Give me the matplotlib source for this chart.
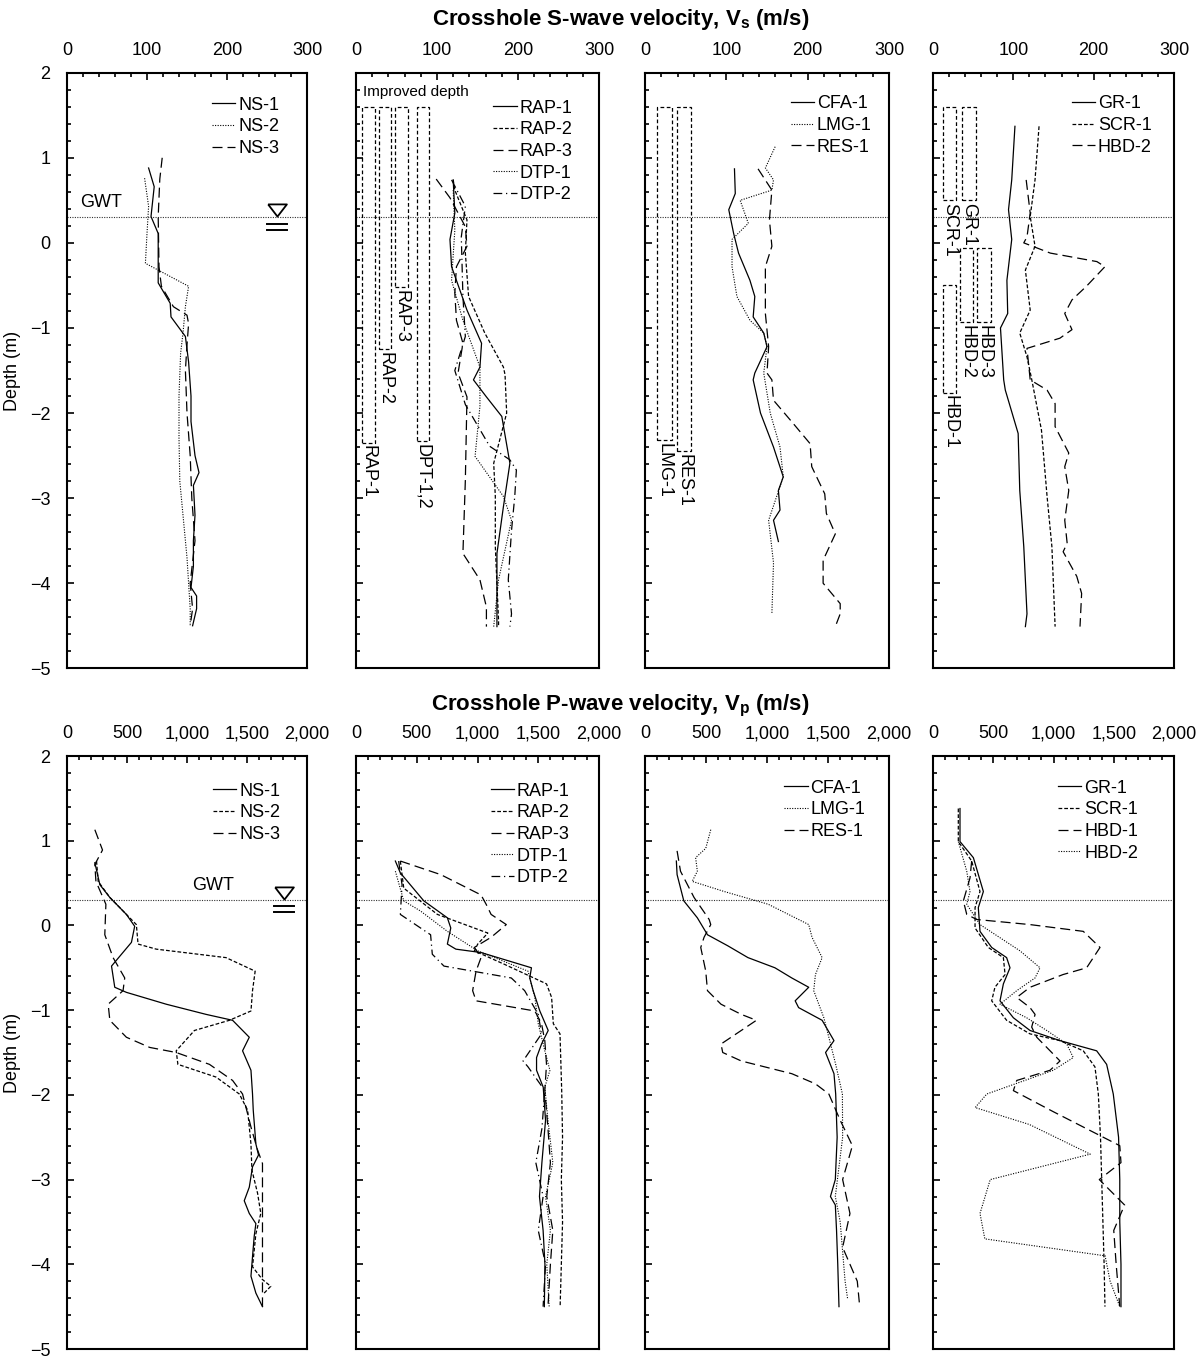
import matplotlib
matplotlib.use('Agg')
import matplotlib.pyplot as plt
from matplotlib.ticker import MultipleLocator, FuncFormatter
from matplotlib.patches import Rectangle

plt.rcParams['font.family'] = ['Liberation Sans', 'DejaVu Sans']
plt.rcParams['font.size'] = 13
plt.rcParams['mathtext.fontset'] = 'custom'
plt.rcParams['mathtext.rm'] = 'Liberation Sans'
plt.rcParams['mathtext.bf'] = 'Liberation Sans:bold'

# ---------------- S-wave profiles (depth m, Vs m/s) ----------------
ns1_s_z = [0.88, 0.66, 0.31, 0.11, -0.47, -0.71, -0.87, -1.1, -1.4, -1.8, -2.1, -2.5, -2.7, -2.85, -3.2, -3.5, -3.8, -4.05, -4.15, -4.3, -4.5]
ns1_s_v = [102, 109, 105, 114, 114, 129, 130, 148, 152, 155, 155, 160, 165, 158, 160, 158, 158, 155, 162, 162, 157]
ns2_s_z = [0.76, 0.43, 0.11, -0.24, -0.3, -0.51, -0.75, -1.06, -1.3, -1.8, -2.3, -2.8, -3.0, -3.3, -3.7, -4.0, -4.3, -4.5]
ns2_s_v = [97, 102, 100, 98, 110, 152, 148, 145, 142, 140, 140, 141, 143, 146, 150, 152, 154, 154]
ns3_s_z = [1.0, 0.75, 0.31, -0.28, -0.51, -0.75, -0.85, -0.95, -1.2, -1.5, -2.0, -2.5, -3.0, -3.5, -4.0, -4.3, -4.5]
ns3_s_v = [119, 116, 114, 115, 118, 133, 150, 152, 150, 148, 150, 154, 156, 160, 154, 157, 154]

rap1_s_z = [0.74, 0.35, 0.04, -0.28, -0.79, -1.18, -1.46, -1.61, -1.81, -2.04, -2.59, -3.1, -3.65, -4.2, -4.51]
rap1_s_v = [120, 122, 116, 118, 137, 155, 153, 145, 161, 180, 190, 182, 174, 174, 174]
rap2_s_z = [0.74, 0.62, 0.27, -0.12, -0.63, -1.06, -1.46, -1.55, -2.0, -2.59, -2.98, -3.57, -4.44, -4.51]
rap2_s_v = [120, 122, 137, 135, 139, 159, 182, 184, 186, 170, 172, 172, 176, 176]
rap3_s_z = [0.75, 0.53, 0.19, -0.04, -0.28, -0.59, -0.91, -1.18, -1.53, -1.81, -2.79, -3.65, -3.96, -4.28, -4.51]
rap3_s_v = [99, 116, 135, 137, 124, 122, 124, 132, 126, 137, 135, 132, 153, 161, 161]
dtp1_s_z = [0.62, 0.15, -0.44, -0.91, -1.46, -1.92, -2.51, -2.98, -3.26, -3.96, -4.51]
dtp1_s_v = [120, 122, 118, 132, 153, 153, 147, 182, 192, 176, 170]
dtp2_s_z = [0.74, 0.43, 0.07, -0.63, -1.1, -1.5, -1.9, -2.39, -2.55, -2.67, -2.98, -3.38, -3.96, -4.36, -4.51]
dtp2_s_v = [118, 135, 130, 132, 135, 122, 135, 165, 190, 198, 196, 192, 188, 192, 190]

cfa1_s_z = [0.87, 0.58, 0.39, 0.11, -0.12, -0.44, -0.63, -0.87, -1.06, -1.22, -1.53, -1.61, -2.0, -2.4, -2.75, -2.91, -3.14, -3.26, -3.51]
cfa1_s_v = [110, 111, 103, 109, 115, 129, 135, 133, 146, 150, 135, 133, 142, 158, 170, 164, 166, 158, 164]
lmg1_s_z = [1.13, 0.88, 0.74, 0.62, 0.5, 0.23, 0.04, -0.28, -0.63, -0.91, -1.06, -1.22, -1.53, -2.0, -2.4, -2.75, -3.26, -3.76, -4.36]
lmg1_s_v = [160, 148, 158, 156, 117, 127, 107, 107, 113, 129, 146, 150, 146, 154, 166, 170, 152, 158, 156]
res1_s_z = [0.87, 0.62, 0.27, -0.04, -0.28, -0.83, -1.22, -1.53, -1.61, -1.85, -2.12, -2.36, -2.63, -2.95, -3.18, -3.42, -3.73, -4.0, -4.24, -4.36, -4.51]
res1_s_v = [139, 156, 153, 156, 148, 148, 152, 150, 156, 158, 182, 203, 205, 221, 223, 234, 219, 219, 240, 240, 234]

gr1_s_z = [1.37, 0.74, 0.39, 0.04, -0.44, -0.83, -1.0, -1.61, -1.73, -2.24, -2.91, -3.57, -4.36, -4.51]
gr1_s_v = [102, 98, 94, 98, 92, 93, 84, 88, 90, 106, 108, 113, 117, 115]
scr1_s_z = [1.37, 0.74, 0.31, -0.04, -0.32, -0.79, -1.06, -1.34, -1.61, -2.2, -2.98, -3.57, -4.51]
scr1_s_v = [132, 127, 121, 127, 115, 121, 108, 117, 123, 135, 142, 148, 152]
hbd2_s_z = [0.74, 0.35, 0.07, 0.0, -0.12, -0.22, -0.28, -0.51, -0.67, -0.83, -1.02, -1.12, -1.24, -1.61, -1.73, -1.89, -2.16, -2.47, -2.63, -2.91, -3.26, -3.53, -3.63, -3.92, -4.12, -4.51]
hbd2_s_v = [116, 121, 117, 113, 146, 204, 214, 191, 173, 164, 173, 158, 117, 121, 142, 152, 152, 169, 164, 169, 164, 167, 162, 179, 185, 183]

# ---------------- P-wave profiles (depth m, Vp m/s) ----------------
ns1_p_z = [0.74, 0.48, 0.33, 0.13, -0.01, -0.2, -0.48, -0.73, -0.79, -0.93, -1.05, -1.12, -1.32, -1.48, -1.71, -1.99, -2.18, -2.58, -2.71, -2.85, -3.09, -3.25, -3.4, -3.52, -3.67, -3.91, -4.14, -4.34, -4.5]
ns1_p_v = [232, 274, 357, 495, 564, 537, 371, 398, 495, 827, 1159, 1380, 1519, 1463, 1533, 1546, 1552, 1574, 1596, 1546, 1519, 1477, 1519, 1574, 1560, 1546, 1533, 1574, 1629]
ns2_p_z = [0.76, 0.52, 0.33, 0.01, -0.22, -0.28, -0.38, -0.54, -0.77, -1.01, -1.12, -1.24, -1.48, -1.64, -1.79, -1.99, -2.18, -2.58, -2.89, -3.16, -3.4, -3.64, -4.03, -4.18, -4.26, -4.34]
ns2_p_v = [246, 260, 357, 578, 592, 744, 1325, 1568, 1546, 1533, 1353, 1062, 910, 924, 1242, 1436, 1505, 1533, 1541, 1588, 1615, 1574, 1546, 1629, 1698, 1643]
ns3_p_z = [1.13, 0.89, 0.72, 0.52, 0.25, -0.11, -0.38, -0.62, -0.77, -0.93, -1.12, -1.32, -1.44, -1.5, -1.64, -1.83, -1.99, -2.38, -2.65, -2.81, -3.36, -3.95, -4.5]
ns3_p_v = [232, 296, 232, 241, 324, 315, 384, 481, 467, 343, 357, 495, 689, 910, 1187, 1380, 1463, 1533, 1588, 1629, 1629, 1629, 1629]

rap1_p_z = [0.76, 0.62, 0.29, 0.09, -0.03, -0.22, -0.28, -0.32, -0.5, -0.62, -0.77, -1.01, -1.24, -1.4, -1.56, -1.71, -1.91, -2.3, -2.8, -3.2, -3.6, -4.0, -4.5]
rap1_p_v = [324, 365, 558, 752, 780, 752, 822, 1029, 1444, 1430, 1458, 1513, 1582, 1527, 1486, 1486, 1541, 1560, 1530, 1510, 1540, 1555, 1550]
rap2_p_z = [0.76, 0.44, 0.13, -0.09, -0.22, -0.3, -0.46, -0.69, -0.85, -1.16, -1.28, -1.95, -2.5, -3.0, -3.5, -4.0, -4.5]
rap2_p_v = [365, 393, 670, 1085, 1002, 974, 1223, 1568, 1610, 1624, 1679, 1693, 1700, 1690, 1700, 1690, 1680]
rap3_p_z = [0.76, 0.6, 0.36, 0.25, 0.13, 0.01, -0.14, -0.26, -0.38, -0.54, -0.77, -0.89, -1.01, -1.16, -1.36, -1.64, -1.95, -2.4, -2.8, -3.2, -3.6, -4.0, -4.5]
rap3_p_v = [365, 697, 1029, 1071, 1112, 1237, 1112, 974, 1029, 988, 960, 988, 1472, 1527, 1554, 1568, 1554, 1580, 1600, 1570, 1620, 1600, 1580]
dtp1_p_z = [0.64, 0.29, 0.17, -0.07, -0.3, -0.54, -0.85, -1.16, -1.48, -1.71, -1.91, -2.3, -2.8, -3.2, -3.6, -4.0, -4.5]
dtp1_p_v = [324, 393, 531, 752, 1002, 1416, 1472, 1500, 1554, 1596, 1554, 1580, 1620, 1560, 1600, 1570, 1590]
dtp2_p_z = [0.76, 0.48, 0.13, -0.11, -0.34, -0.48, -0.62, -0.77, -1.05, -1.28, -1.6, -1.67, -1.95, -2.4, -2.8, -3.2, -3.6, -4.0, -4.5]
dtp2_p_v = [351, 379, 365, 614, 628, 724, 1278, 1388, 1500, 1527, 1375, 1416, 1554, 1530, 1480, 1540, 1500, 1560, 1540]

cfa1_p_z = [0.76, 0.6, 0.29, 0.09, -0.11, -0.24, -0.38, -0.5, -0.62, -0.73, -0.89, -0.97, -1.12, -1.36, -1.5, -1.75, -1.99, -2.5, -3.0, -3.2, -3.3, -3.6, -4.0, -4.5]
cfa1_p_v = [257, 263, 318, 429, 512, 678, 844, 1065, 1203, 1342, 1231, 1259, 1452, 1549, 1480, 1549, 1563, 1575, 1560, 1520, 1560, 1570, 1580, 1590]
lmg1_p_z = [1.13, 0.91, 0.8, 0.64, 0.52, 0.4, 0.25, 0.13, 0.01, -0.14, -0.38, -0.58, -0.77, -1.09, -1.4, -1.64, -1.99, -2.5, -3.2, -3.5, -4.2, -4.4]
lmg1_p_v = [539, 498, 415, 429, 387, 650, 1010, 1176, 1342, 1369, 1452, 1397, 1383, 1466, 1521, 1563, 1618, 1620, 1560, 1600, 1640, 1660]
res1_p_z = [0.88, 0.64, 0.33, 0.07, 0.01, -0.14, -0.26, -0.54, -0.77, -0.93, -1.05, -1.12, -1.24, -1.4, -1.5, -1.6, -1.75, -1.87, -1.99, -2.3, -2.6, -3.0, -3.4, -3.8, -4.2, -4.5]
res1_p_v = [263, 291, 402, 526, 539, 484, 457, 498, 512, 623, 789, 913, 789, 623, 637, 789, 1203, 1397, 1507, 1600, 1700, 1620, 1680, 1620, 1740, 1760]

gr1_p_z = [1.38, 0.99, 0.8, 0.4, 0.21, -0.07, -0.26, -0.38, -0.5, -0.69, -0.89, -1.09, -1.24, -1.36, -1.48, -1.64, -1.99, -2.5, -3.0, -3.5, -4.0, -4.5]
gr1_p_v = [224, 224, 335, 418, 376, 390, 487, 611, 639, 584, 556, 667, 805, 1054, 1358, 1441, 1496, 1540, 1550, 1550, 1560, 1560]
scr1_p_z = [1.38, 0.99, 0.76, 0.4, 0.21, -0.03, -0.26, -0.38, -0.58, -0.73, -0.89, -1.12, -1.28, -1.36, -1.48, -1.67, -1.99, -2.5, -3.0, -3.5, -4.0, -4.5]
scr1_p_v = [210, 210, 321, 390, 349, 349, 459, 584, 598, 514, 487, 611, 805, 1054, 1247, 1344, 1372, 1390, 1400, 1410, 1420, 1427]
hbd1_p_z = [0.76, 0.56, 0.29, 0.13, 0.07, 0.01, -0.07, -0.26, -0.5, -0.58, -0.73, -0.85, -0.97, -1.05, -1.2, -1.32, -1.44, -1.6, -1.71, -1.83, -1.95, -2.2, -2.6, -2.8, -3.0, -3.1, -3.3, -3.6, -4.0, -4.5]
hbd1_p_v = [321, 307, 252, 280, 363, 805, 1247, 1386, 1275, 1079, 805, 695, 805, 847, 819, 861, 944, 1054, 971, 695, 667, 1000, 1550, 1560, 1380, 1450, 1590, 1500, 1520, 1550]
hbd2_p_z = [0.99, 0.64, 0.4, 0.25, 0.01, -0.3, -0.5, -0.62, -0.77, -0.93, -1.09, -1.24, -1.4, -1.56, -1.71, -1.99, -2.15, -2.35, -2.7, -3.0, -3.4, -3.7, -3.9, -4.2, -4.5]
hbd2_p_v = [210, 280, 307, 280, 390, 722, 888, 847, 695, 556, 777, 944, 1110, 1164, 998, 446, 350, 800, 1305, 475, 390, 430, 1428, 1470, 1550]

# improved-depth zones (top, bottom depth in m)
zone_p2_labels = ['RAP-1', 'RAP-2', 'RAP-3', 'DPT-1,2']
zone_p2_top = [1.6, 1.6, 1.6, 1.6]
zone_p2_bot = [-2.35, -1.25, -0.52, -2.33]
zone_p3_labels = ['LMG-1', 'RES-1']
zone_p3_top = [1.6, 1.6]
zone_p3_bot = [-2.32, -2.45]
zone_p4_labels = ['SCR-1', 'GR-1', 'HBD-3', 'HBD-2', 'HBD-1']
zone_p4_top = [1.6, 1.6, -0.06, -0.06, -0.5]
zone_p4_bot = [0.5, 0.5, -0.93, -0.93, -1.76]

gwt_depth = 0.3

# ---------------- styles ----------------
SOLID = '-'
DOT = (0, (1, 1.3))
SHORT = (0, (3, 1.6))
LONG = (0, (8, 4))
DASHDOT = (0, (7, 3, 1, 3))
LW = 0.9

top_panels = [
    [('NS-1', ns1_s_z, ns1_s_v, SOLID), ('NS-2', ns2_s_z, ns2_s_v, DOT), ('NS-3', ns3_s_z, ns3_s_v, LONG)],
    [('RAP-1', rap1_s_z, rap1_s_v, SOLID), ('RAP-2', rap2_s_z, rap2_s_v, SHORT), ('RAP-3', rap3_s_z, rap3_s_v, LONG),
     ('DTP-1', dtp1_s_z, dtp1_s_v, DOT), ('DTP-2', dtp2_s_z, dtp2_s_v, DASHDOT)],
    [('CFA-1', cfa1_s_z, cfa1_s_v, SOLID), ('LMG-1', lmg1_s_z, lmg1_s_v, DOT), ('RES-1', res1_s_z, res1_s_v, LONG)],
    [('GR-1', gr1_s_z, gr1_s_v, SOLID), ('SCR-1', scr1_s_z, scr1_s_v, SHORT), ('HBD-2', hbd2_s_z, hbd2_s_v, LONG)],
]
bot_panels = [
    [('NS-1', ns1_p_z, ns1_p_v, SOLID), ('NS-2', ns2_p_z, ns2_p_v, SHORT), ('NS-3', ns3_p_z, ns3_p_v, LONG)],
    [('RAP-1', rap1_p_z, rap1_p_v, SOLID), ('RAP-2', rap2_p_z, rap2_p_v, SHORT), ('RAP-3', rap3_p_z, rap3_p_v, LONG),
     ('DTP-1', dtp1_p_z, dtp1_p_v, DOT), ('DTP-2', dtp2_p_z, dtp2_p_v, DASHDOT)],
    [('CFA-1', cfa1_p_z, cfa1_p_v, SOLID), ('LMG-1', lmg1_p_z, lmg1_p_v, DOT), ('RES-1', res1_p_z, res1_p_v, LONG)],
    [('GR-1', gr1_p_z, gr1_p_v, SOLID), ('SCR-1', scr1_p_z, scr1_p_v, SHORT), ('HBD-1', hbd1_p_z, hbd1_p_v, LONG),
     ('HBD-2', hbd2_p_z, hbd2_p_v, DOT)],
]

# ---------------- layout (pixels) ----------------
W, H = 1201, 1359
lefts = [67, 356, 645, 933]
rights = [307, 599, 889, 1174]
top_rows = [(72.7, 668.3), (756, 1349)]
top_leg = [(0.604, 0.960), (0.564, 0.955), (0.597, 0.962), (0.575, 0.962)]
bot_leg = [(0.608, 0.955), (0.554, 0.955), (0.57, 0.960), (0.518, 0.960)]

fig = plt.figure(figsize=(W / 100, H / 100), dpi=100)


def make_ax(col, row):
    y0, y1 = top_rows[row]
    ax = fig.add_axes([lefts[col] / W, 1 - y1 / H, (rights[col] - lefts[col]) / W, (y1 - y0) / H])
    ax.set_ylim(-5, 2)
    ax.yaxis.set_major_locator(MultipleLocator(1))
    ax.yaxis.set_minor_locator(MultipleLocator(0.2))
    ax.xaxis.tick_top()
    ax.tick_params(which='both', direction='in', width=1.2, top=True, bottom=False, right=False, left=True)
    ax.tick_params(which='major', length=5)
    ax.tick_params(which='minor', length=3)
    ax.tick_params(axis='x', pad=10, labelsize=13)
    ax.tick_params(axis='y', pad=12, labelsize=13)
    for s in ax.spines.values():
        s.set_linewidth(1.5)
    if col == 0:
        ax.set_ylabel('Depth (m)', fontsize=13, labelpad=6)
    else:
        ax.tick_params(axis='y', labelleft=False)
    return ax


def draw_zones(ax, xs0, xs1, tops, bots, labels):
    for x0, x1, t, b, lab in zip(xs0, xs1, tops, bots, labels):
        ax.add_patch(Rectangle((x0, b), x1 - x0, t - b, fill=False, ec='black', lw=0.9,
                               ls=(0, (3, 2)), zorder=2))
        ax.text((x0 + x1) / 2, b - 0.03, lab, rotation=270, ha='center', va='top', fontsize=13)


def draw_gwt(ax, label_x, tri_x, bar_x0, bar_x1, show_text):
    ax.axhline(gwt_depth, color='#333333', lw=0.8, ls=(0, (1, 1.2)), zorder=1)
    if show_text:
        ax.text(label_x, gwt_depth + 0.17, 'GWT', ha='left', va='center', fontsize=13)
        tri = [(-1, 0.65), (1, 0.65), (0, -0.65), (-1, 0.65)]
        ax.plot([tri_x], [gwt_depth + 0.085], marker=tri, ms=13.5, mfc='white', mec='black', mew=1.3,
                ls='none', zorder=4)
        ax.plot([bar_x0, bar_x1], [gwt_depth - 0.073] * 2, color='black', lw=1.4, zorder=4)
        ax.plot([bar_x0, bar_x1], [gwt_depth - 0.144] * 2, color='black', lw=1.4, zorder=4)


def add_legend(ax, anchor):
    ax.legend(loc='upper left', bbox_to_anchor=anchor, frameon=False, borderpad=0, borderaxespad=0,
              handlelength=1.3, handletextpad=0.15, labelspacing=0.26, fontsize=13)


# ---------- top row: Vs ----------
for col, series in enumerate(top_panels):
    ax = make_ax(col, 0)
    ax.set_xlim(0, 300)
    ax.xaxis.set_major_locator(MultipleLocator(100))
    ax.xaxis.set_minor_locator(MultipleLocator(20))
    for lab, z, v, ls in series:
        ax.plot(v, z, color='black', lw=0.8 if ls == DOT else LW, ls=ls, label=lab, zorder=3)
    draw_gwt(ax, 16, 263, 250, 275, col == 0)
    add_legend(ax, top_leg[col])
    if col == 1:
        ax.text(8.5, 1.77, 'Improved depth', fontsize=11, ha='left', va='center')
        draw_zones(ax, [7.4, 28.4, 48, 75], [23, 43.2, 64, 90], zone_p2_top, zone_p2_bot, zone_p2_labels)
    if col == 2:
        draw_zones(ax, [14.4, 39], [33.2, 56.6], zone_p3_top, zone_p3_bot, zone_p3_labels)
    if col == 3:
        draw_zones(ax, [12, 36.5, 55, 34, 13], [28.7, 53, 71.6, 49.6, 29], zone_p4_top, zone_p4_bot, zone_p4_labels)

# ---------- bottom row: Vp ----------
for col, series in enumerate(bot_panels):
    ax = make_ax(col, 1)
    ax.set_xlim(0, 2000)
    ax.xaxis.set_major_locator(MultipleLocator(500))
    ax.xaxis.set_minor_locator(MultipleLocator(100))
    ax.xaxis.set_major_formatter(FuncFormatter(lambda val, pos: f'{int(val):,}'))
    for lab, z, v, ls in series:
        ax.plot(v, z, color='black', lw=0.8 if ls == DOT else LW, ls=ls, label=lab, zorder=3)
    draw_gwt(ax, 1046, 1809, 1726, 1892, col == 0)
    add_legend(ax, bot_leg[col])

fig.text(620.5 / W, 1 - 20 / H, r'Crosshole S-wave velocity, V$_\mathbf{s}$ (m/s)', ha='center', va='center',
         fontsize=16, fontweight='bold')
fig.text(620.5 / W, 1 - 706 / H, r'Crosshole P-wave velocity, V$_\mathbf{p}$ (m/s)', ha='center', va='center',
         fontsize=16, fontweight='bold')

fig.savefig('out.png', dpi=100)
